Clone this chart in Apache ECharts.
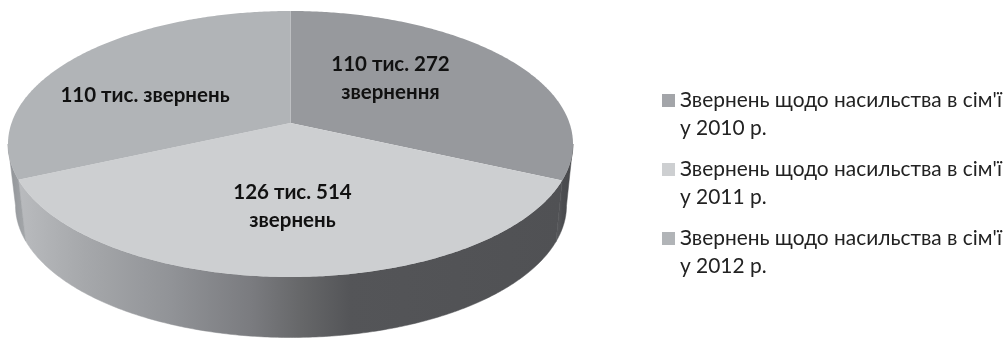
<!DOCTYPE html>
<html><head><meta charset="utf-8">
<style>html,body{margin:0;padding:0;background:#fff}#c{width:1006px;height:338px}</style>
<script src="https://cdn.jsdelivr.net/npm/echarts@6/dist/echarts.min.js"></script>
</head><body><div id="c"></div>
<script>
// --- data ---
const years = ['2010', '2011', '2012'];
const seriesNames = [
  "Звернень щодо насильства в сім'ї\nу 2010 р.",
  "Звернень щодо насильства в сім'ї\nу 2011 р.",
  "Звернень щодо насильства в сім'ї\nу 2012 р."
];
const requests = [110272, 126514, 110000];
const sliceLabels = ['110 тис. 272\nзвернення', '126 тис. 514\nзвернень', '110 тис. звернень'];

// --- style and layout ---
const topColors = ['#97999d', '#cdcfd1', '#b1b4b7'];
const legendColors = ['#a3a5a9', '#cdcfd1', '#b1b4b7'];
const sideStops = [
  [[0, '#5a5b5e'], [0.4, '#4b4c4f'], [1, '#48494c']],
  [[0, '#b9bbbe'], [0.12, '#a6a8ab'], [0.28, '#919397'], [0.43, '#7a7b7f'], [0.52, '#666769'], [0.61, '#545558'], [1, '#505154']],
  [[0, '#8f9296'], [1, '#a5a8ab']]
];
const labelCentres = [[390.5, 78], [292.5, 206.5], [145, 95]];
const TOP = {cx: 290.5, cy: 144, rx: 282.5, ry: 133};
const BOTTOM = {cx: 291, cy: 205.5, rx: 275.5, ry: 132};
const TILT = 0.158;

const total = requests.reduce((a, b) => a + b, 0);
function project(t, e) {
  const u = Math.sin(t), v = Math.cos(t), d = 1 + TILT * v;
  const u2 = u * Math.sqrt(1 - TILT * TILT) / d, v2 = (v + TILT) / d;
  return [e.cx + e.rx * u2, e.cy - e.ry * v2];
}
function arc(a, b, e) {
  const n = Math.max(2, Math.ceil(Math.abs(b - a) / 0.01)), pts = [];
  for (let i = 0; i <= n; i++) pts.push(project(a + (b - a) * i / n, e));
  return pts;
}
const apex = [TOP.cx, TOP.cy - TOP.ry * TILT];
const visFrom = Math.acos(-TILT), visTo = 2 * Math.PI - visFrom;

function makeRender(idx) {
  return function (params, api) {
    const value = api.value(0);
    const before = requests.slice(0, idx).reduce((a, b) => a + b, 0);
    const a0 = before / total * 2 * Math.PI;
    const a1 = a0 + value / total * 2 * Math.PI;
    const children = [];
    const s0 = Math.max(a0, visFrom), s1 = Math.min(a1, visTo);
    if (s1 > s0) {
      const pts = arc(s0, s1, TOP).concat(arc(s1, s0, BOTTOM));
      const xs = pts.map(p => p[0]);
      const grad = new echarts.graphic.LinearGradient(Math.min(...xs), 0, Math.max(...xs), 0,
        sideStops[idx].map(s => ({offset: s[0], color: s[1]})), true);
      children.push({type: 'polygon', shape: {points: pts}, style: {fill: grad, stroke: grad, lineWidth: 0.5}});
    }
    const face = [apex].concat(arc(a0, a1, TOP));
    children.push({type: 'polygon', z2: 2, shape: {points: face}, style: {fill: topColors[idx]}});
    children.push({type: 'text', z2: 3, x: labelCentres[idx][0], y: labelCentres[idx][1], style: {
      text: sliceLabels[idx], align: 'center', verticalAlign: 'middle',
      font: 'bold 20.5px Lato', lineHeight: 28, fill: '#111'}});
    return {type: 'group', children};
  };
}

const chart = echarts.init(document.getElementById('c'), null, {renderer: 'canvas'});
chart.setOption({
  animation: false,
  backgroundColor: '#fff',
  color: topColors,
  legend: {
    orient: 'vertical', left: 662, top: 86.5, height: 250, itemWidth: 13, itemHeight: 41, itemGap: 13,
    icon: 'path://M0 0H13V13H0Z M0 41H13V41H0Z', padding: 0,
    selectedMode: false, align: 'left', itemStyle: {borderWidth: 0},
    textStyle: {fontFamily: 'Lato', fontSize: 20.9, color: '#222', lineHeight: 28},
    data: seriesNames.map((name, i) => ({name, itemStyle: {color: legendColors[i]}}))
  },
  series: seriesNames.map((name, i) => ({
    type: 'custom', name, coordinateSystem: 'none', silent: true,
    itemStyle: {color: topColors[i]},
    data: [[requests[i]]], renderItem: makeRender(i)
  }))
});
</script></body></html>
